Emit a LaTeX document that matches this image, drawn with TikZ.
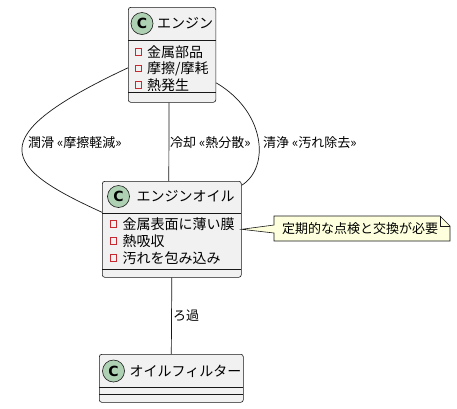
\documentclass[tikz,border=0pt]{standalone}
\usepackage{fontspec}
\newfontfamily\jp{Noto Sans CJK JP}
\newfontfamily\cf{DejaVu Sans}
\usetikzlibrary{calc}
\definecolor{boxfill}{HTML}{F1F1F1}
\definecolor{boxline}{HTML}{181818}
\definecolor{cgreen}{HTML}{ADD1B2}
\definecolor{pred}{HTML}{C82930}
\definecolor{notefill}{HTML}{FEFFDD}
\tikzset{
  classbox/.style={draw=boxline, fill=boxfill, rounded corners=2.5pt, line width=0.6pt, anchor=north west, inner sep=0pt},
  sepline/.style={draw=boxline, line width=0.6pt},
  ccircle/.style={circle, fill=cgreen, draw=boxline, line width=0.6pt, minimum size=22pt, inner sep=0pt, font=\cf\bfseries\fontsize{14}{14}\selectfont},
  hdr/.style={anchor=west, inner sep=0pt, font=\jp\fontsize{14}{14}\selectfont},
  attr/.style={anchor=west, inner sep=0pt, font=\jp\fontsize{14}{14}\selectfont},
  privmark/.style={draw=pred, minimum size=6.5pt, inner sep=0pt, line width=0.7pt},
  lbl/.style={anchor=west, inner sep=0pt, font=\jp\fontsize{13}{13}\selectfont},
  conn/.style={draw=boxline, line width=0.7pt},
}
\begin{document}
\begin{tikzpicture}[x=1pt,y=-1pt]
\useasboundingbox (0,0) rectangle (457,408);
\fill[white] (0,0) rectangle (457,408);

% Engine box
\node[classbox, minimum width=87.5pt, minimum height=95pt] (engine) at (128,7) {};
% Oil box
\node[classbox, minimum width=139pt, minimum height=96pt] (oil) at (102,181) {};
% Filter box
\node[classbox, minimum width=144pt, minimum height=48pt] (filter) at (99,354) {};

% connectors
\draw[conn] ([yshift=-13pt]engine.west) .. controls (-21.6,137.9) and (3.3,167.4) .. ([yshift=17pt]oil.west);
\draw[conn] ([xshift=-3pt]engine.south) -- ([xshift=-3pt]oil.north);
\draw[conn] ([yshift=-28pt]engine.east) .. controls (266,112) and (270,168) .. ([yshift=44pt]oil.east);
\draw[conn] (oil.south) -- (filter.north);

% Engine contents
\draw[sepline] (128,40) -- (215.5,40);
\draw[sepline] (128,92) -- (215.5,92);
\node[ccircle] (ec) at (142,23.5) {C};
\node[hdr] (et) at (157,23.5) {エンジン};
\node[privmark] (em1) at (138.5,52) {};
\node[attr] (ea1) at (147,52) {金属部品};
\node[privmark] (em2) at (138.5,68.5) {};
\node[attr] (ea2) at (147,68.5) {摩擦/摩耗};
\node[privmark] (em3) at (138.5,85) {};
\node[attr] (ea3) at (147,85) {熱発生};

% Oil contents
\draw[sepline] (102,213) -- (241,213);
\draw[sepline] (102,269) -- (241,269);
\node[ccircle] (oc) at (118.5,196.5) {C};
\node[hdr] (ot) at (136.5,196.5) {エンジンオイル};
\node[privmark] (om1) at (113.5,224) {};
\node[attr] (oa1) at (122.5,224) {金属表面に薄い膜};
\node[privmark] (om2) at (113.5,241) {};
\node[attr] (oa2) at (122.5,241) {熱吸収};
\node[privmark] (om3) at (113.5,258) {};
\node[attr] (oa3) at (122.5,258) {汚れを包み込み};

% Filter contents
\draw[sepline] (99,387) -- (243,387);
\draw[sepline] (99,394) -- (243,394);
\node[ccircle] (fc) at (113.5,371) {C};
\node[hdr] (ft) at (129.5,371) {オイルフィルター};

% Labels
\node[lbl] (l1) at (28,143) {潤滑 «摩擦軽減»};
\node[lbl] (l2) at (170,143) {冷却 «熱分散»};
\node[lbl] (l3) at (263,143) {清浄 «汚れ除去»};
\node[lbl] (l4) at (173,316) {ろ過};

% Note
\draw[draw=boxline, fill=notefill, line width=0.6pt]
  (274,216) -- (440,216) -- (450,226) -- (450,241) -- (274,241) -- (274,233)
  -- (oil.east) -- (274,225) -- cycle;
\draw[draw=boxline, line width=0.6pt] (440,216) -- (440,226) -- (450,226);
\node[lbl] (note) at (282,229) {定期的な点検と交換が必要};
\end{tikzpicture}
\end{document}
